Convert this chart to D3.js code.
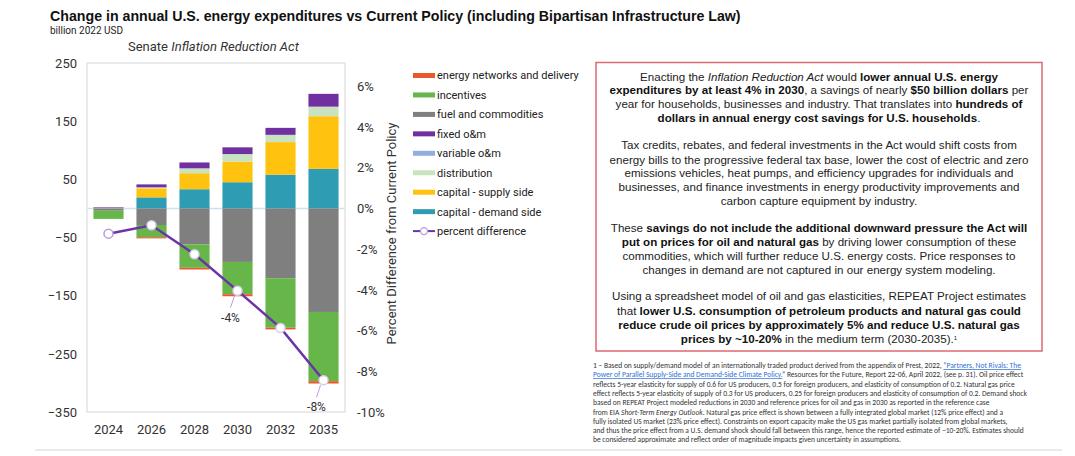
<!DOCTYPE html>
<html>
<head>
<meta charset="utf-8">
<script src="https://cdn.jsdelivr.net/npm/d3@7"></script>
<style>
  html, body { margin: 0; padding: 0; background: #fff; }
  svg { display: block; }
</style>
</head>
<body>
<svg id="chart" width="1075" height="456"></svg>
<script>
// ---------------- DATA ----------------
const years = ["2024", "2026", "2028", "2030", "2032", "2035"];
const capitalDemand = [0, 19, 33, 45, 58, 68];
const capitalSupply = [0, 15.5, 27.5, 35.5, 56, 90.5];
const distribution = [1, 1.5, 8, 12.5, 12, 16];
const variableOM = [0, 0.3, 0.5, 0.5, 0.5, 0.5];
const fixedOM = [1, 5, 10, 11.5, 12, 22];
const fuelCommodities = [-4, -28.5, -62, -92, -120, -178];
const incentives = [-14, -21, -40, -55.5, -85, -119];
const energyNetworks = [0, -2, -3, -3.5, -3, -4];
const percentDifference = [-1.24, -0.83, -2.25, -4.04, -5.87, -8.44];
const leftTicks = [250, 150, 50, -50, -150, -250, -350];
const rightTicks = [6, 4, 2, 0, -2, -4, -6, -8, -10];
const pointLabels = [null, null, null, "-4%", null, "-8%"];

const seriesDefs = [
  { key: "capital - demand side", values: capitalDemand, color: "#2E9DB3" },
  { key: "capital - supply side", values: capitalSupply, color: "#FFC20E" },
  { key: "distribution", values: distribution, color: "#C8E3BE" },
  { key: "variable o&m", values: variableOM, color: "#92AEDE" },
  { key: "fixed o&m", values: fixedOM, color: "#7030A0" },
  { key: "fuel and commodities", values: fuelCommodities, color: "#7F7F7F" },
  { key: "incentives", values: incentives, color: "#67B64A" },
  { key: "energy networks and delivery", values: energyNetworks, color: "#E9592C" }
];
const lineColor = "#6B35A6";

// ---------------- SETUP ----------------
const svg = d3.select("#chart");
const W = 1075, H = 456;
svg.append("rect").attr("width", W).attr("height", H).attr("fill", "#fff");

const plot = { left: 87, right: 345, top: 63, bottom: 412 };
const axisFont = "Roboto, 'Noto Sans', sans-serif";
const textFont = "'Liberation Sans', Arial, sans-serif";

const x = d3.scaleBand().domain(years).range([plot.left, plot.right]).paddingInner(0.3).paddingOuter(0.15);
const y = d3.scaleLinear().domain([-350, 250]).range([plot.bottom, plot.top]);
const y2 = d3.scaleLinear().domain([-10, 10 * 250 / 350]).range([plot.bottom, plot.top]);

// Title
svg.append("text").attr("x", 50).attr("y", 21)
  .attr("font-family", textFont).attr("font-weight", "bold").attr("font-size", 14.2)
  .attr("fill", "#111")
  .text("Change in annual U.S. energy expenditures vs Current Policy (including Bipartisan Infrastructure Law)");
svg.append("text").attr("x", 50).attr("y", 33.5)
  .attr("font-family", axisFont).attr("font-size", 10).attr("fill", "#222")
  .text("billion 2022 USD");
const sub = svg.append("text").attr("x", 128).attr("y", 51)
  .attr("font-family", axisFont).attr("font-size", 13).attr("fill", "#333");
sub.append("tspan").text("Senate ");
sub.append("tspan").attr("font-style", "italic").text("Inflation Reduction Act");

// Plot frame
svg.append("rect").attr("x", plot.left).attr("y", plot.top)
  .attr("width", plot.right - plot.left).attr("height", plot.bottom - plot.top)
  .attr("fill", "none").attr("stroke", "#e3e3e3").attr("stroke-width", 1.5);

// Zero line
svg.append("line").attr("x1", plot.left).attr("x2", plot.right)
  .attr("y1", y(0)).attr("y2", y(0)).attr("stroke", "#cfe3ec").attr("stroke-width", 1.5);

// Stacked bars
const table = years.map((yr, i) => {
  const row = { year: yr };
  seriesDefs.forEach(s => row[s.key] = s.values[i]);
  return row;
});
const stack = d3.stack().keys(seriesDefs.map(s => s.key)).offset(d3.stackOffsetDiverging);
const stacked = stack(table);
const colorOf = k => seriesDefs.find(s => s.key === k).color;

svg.append("g").selectAll("g").data(stacked).join("g")
  .attr("fill", d => colorOf(d.key))
  .selectAll("rect").data(d => d).join("rect")
  .attr("x", d => x(d.data.year))
  .attr("width", x.bandwidth())
  .attr("y", d => y(Math.max(d[0], d[1])))
  .attr("height", d => Math.abs(y(d[0]) - y(d[1])));

// Left axis
const gl = svg.append("g").attr("transform", `translate(${plot.left - 10},0)`)
  .call(d3.axisLeft(y).tickValues(leftTicks).tickSize(0).tickPadding(0));
gl.select(".domain").remove();
gl.selectAll("text").attr("font-family", axisFont).attr("font-size", 13).attr("fill", "#333");

// Right axis
const gr = svg.append("g").attr("transform", `translate(${plot.right + 12},0)`)
  .call(d3.axisRight(y2).tickValues(rightTicks).tickSize(0).tickPadding(0).tickFormat(d => d + "%"));
gr.select(".domain").remove();
gr.selectAll("text").attr("font-family", axisFont).attr("font-size", 13).attr("fill", "#333");

svg.append("text")
  .attr("transform", `translate(396,${(plot.top + plot.bottom) / 2 - 4}) rotate(-90)`)
  .attr("text-anchor", "middle")
  .attr("font-family", axisFont).attr("font-size", 13).attr("fill", "#333")
  .text("Percent Difference from Current Policy");

// Bottom axis
const gb = svg.append("g").attr("transform", `translate(0,${plot.bottom + 10})`)
  .call(d3.axisBottom(x).tickSize(0).tickPadding(0));
gb.select(".domain").remove();
gb.selectAll("text").attr("font-family", axisFont).attr("font-size", 13).attr("fill", "#333").attr("dy", "0.95em");

// Percent difference line
const cx = d => x(d.year) + x.bandwidth() / 2;
const pts = years.map((yr, i) => ({ year: yr, v: percentDifference[i], label: pointLabels[i] }));
svg.append("path").datum(pts)
  .attr("fill", "none").attr("stroke", lineColor).attr("stroke-width", 2.5)
  .attr("d", d3.line().x(cx).y(d => y2(d.v)));
svg.append("g").selectAll("circle").data(pts).join("circle")
  .attr("cx", cx).attr("cy", d => y2(d.v)).attr("r", 4.5)
  .attr("fill", "#fff").attr("stroke", (d, i) => i === 0 ? "#b79be0" : "#d9cdee").attr("stroke-width", 1.5);

// point labels with leader lines
const labelPts = pts.filter(d => d.label);
svg.append("g").selectAll("line").data(labelPts).join("line")
  .attr("x1", d => cx(d) - 3).attr("y1", d => y2(d.v) + 5)
  .attr("x2", d => cx(d) - 7).attr("y2", d => y2(d.v) + 17)
  .attr("stroke", "#c39be0").attr("stroke-width", 1);
svg.append("g").selectAll("text").data(labelPts).join("text")
  .attr("x", d => cx(d) - 7).attr("y", d => y2(d.v) + 31)
  .attr("text-anchor", "middle")
  .attr("font-family", axisFont).attr("font-size", 12).attr("fill", "#333")
  .text(d => d.label);

// Legend
const legendItems = [...seriesDefs].reverse();
const lg = svg.append("g").attr("transform", "translate(413,75.5)");
legendItems.forEach((s, i) => {
  const g = lg.append("g").attr("transform", `translate(0,${i * 19.45})`);
  g.append("rect").attr("x", 0).attr("y", -2.5).attr("width", 22).attr("height", 5).attr("fill", s.color);
  g.append("text").attr("x", 24).attr("y", 0).attr("dy", "0.35em")
    .attr("font-family", axisFont).attr("font-size", 11).attr("fill", "#222").text(s.key);
});
{
  const g = lg.append("g").attr("transform", `translate(0,${8 * 19.45})`);
  g.append("line").attr("x1", 0).attr("x2", 22).attr("stroke", lineColor).attr("stroke-width", 2);
  g.append("circle").attr("cx", 11).attr("cy", 0).attr("r", 3.5).attr("fill", "#fff").attr("stroke", "#b79be0").attr("stroke-width", 1.3);
  g.append("text").attr("x", 24).attr("y", 0).attr("dy", "0.35em")
    .attr("font-family", axisFont).attr("font-size", 11).attr("fill", "#222").text("percent difference");
}

// Text box
svg.append("rect").attr("x", 596).attr("y", 62.5).attr("width", 446).attr("height", 288.5)
  .attr("fill", "none").attr("stroke", "#dc6a70").attr("stroke-width", 1.5);

// segments: [text, style] where style: "" normal, "b" bold, "i" italic, "s" superscript
const boxLines = [
  { y: 80.5, segs: [["Enacting the ", ""], ["Inflation Reduction Act", "i"], [" would ", ""], ["lower annual U.S. energy", "b"]] },
  { y: 94, segs: [["expenditures by at least 4% in 2030", "b"], [", a savings of nearly ", ""], ["$50 billion dollars", "b"], [" per", ""]] },
  { y: 108, segs: [["year for households, businesses and industry. That translates into ", ""], ["hundreds of", "b"]] },
  { y: 122, segs: [["dollars in annual energy cost savings for U.S. households", "b"], [".", ""]] },
  { y: 148.5, segs: [["Tax credits, rebates, and federal investments in the Act would shift costs from", ""]] },
  { y: 163.5, segs: [["energy bills to the progressive federal tax base, lower the cost of electric and zero", ""]] },
  { y: 177, segs: [["emissions vehicles, heat pumps, and efficiency upgrades for individuals and", ""]] },
  { y: 191, segs: [["businesses, and finance investments in energy productivity improvements and", ""]] },
  { y: 204.5, segs: [["carbon capture equipment by industry.", ""]] },
  { y: 231.5, segs: [["These ", ""], ["savings do not include the additional downward pressure the Act will", "b"]] },
  { y: 246, segs: [["put on prices for oil and natural gas", "b"], [" by driving lower consumption of these", ""]] },
  { y: 259.5, segs: [["commodities, which will further reduce U.S. energy costs. Price responses to", ""]] },
  { y: 273.5, segs: [["changes in demand are not captured in our energy system modeling.", ""]] },
  { y: 300, segs: [["Using a spreadsheet model of oil and gas elasticities, REPEAT Project estimates", ""]] },
  { y: 314.5, segs: [["that ", ""], ["lower U.S. consumption of petroleum products and natural gas could", "b"]] },
  { y: 329, segs: [["reduce crude oil prices by approximately 5% and reduce U.S. natural gas", "b"]] },
  { y: 343, segs: [["prices by ~10-20%", "b"], [" in the medium term (2030-2035).", ""], ["1", "s"]] }
];
const tb = svg.append("g");
boxLines.forEach(line => {
  const t = tb.append("text").attr("x", 819).attr("y", line.y).attr("text-anchor", "middle")
    .attr("font-family", textFont).attr("font-size", 11.6).attr("fill", "#222");
  line.segs.forEach(([s, st]) => {
    const sp = t.append("tspan").text(s);
    if (st === "b") sp.attr("font-weight", "bold").attr("fill", "#111");
    if (st === "i") sp.attr("font-style", "italic");
    if (st === "s") sp.attr("font-size", 6).attr("baseline-shift", "super");
  });
});

// Footnote
const footLines = [
  [["1 – Based on supply/demand model of an internationally traded product derived from the appendix of Prest, 2022, ", ""], ["\u201CPartners, Not Rivals: The", "l"]],
  [["Power of Parallel Supply-Side and Demand-Side Climate Policy.", "l"], ["\u201D Resources for the Future, Report 22-06, April 2022, (see p. 31). Oil price effect", ""]],
  [["reflects 5-year elasticity for supply of 0.6 for US producers, 0.5 for foreign producers, and elasticity of consumption of 0.2. Natural gas price", ""]],
  [["effect reflects 5-year elasticity of supply of 0.3 for US producers, 0.25 for foreign producers and elasticity of consumption of 0.2. Demand shock", ""]],
  [["based on REPEAT Project modeled reductions in 2030 and reference prices for oil and gas in 2030 as reported in the reference case", ""]],
  [["from EIA ", ""], ["Short-Term Energy Outlook", "i"], [". Natural gas price effect is shown between a fully integrated global market (12% price effect) and a", ""]],
  [["fully isolated US market (23% price effect). Constraints on export capacity make the US gas market partially isolated from global markets,", ""]],
  [["and thus the price effect from a U.S. demand shock should fall between this range, hence the reported estimate of ~10-20%. Estimates should", ""]],
  [["be considered approximate and reflect order of magnitude impacts given uncertainty in assumptions.", ""]]
];
const fg = svg.append("g");
footLines.forEach((segs, i) => {
  const t = fg.append("text").attr("x", 593).attr("y", 368 + i * 9.3)
    .attr("font-family", "Carlito, 'Liberation Sans Narrow', 'Liberation Sans', sans-serif")
    .attr("font-size", 7.5).attr("fill", "#333");
  segs.forEach(([s, st]) => {
    const sp = t.append("tspan").text(s);
    if (st === "l") sp.attr("fill", "#2f6fd6").attr("text-decoration", "underline");
    if (st === "i") sp.attr("font-style", "italic");
  });
});

// bottom separator
svg.append("line").attr("x1", 35).attr("x2", 1062).attr("y1", 450).attr("y2", 450)
  .attr("stroke", "#e3e3e3").attr("stroke-width", 1.5);
</script>
</body>
</html>
